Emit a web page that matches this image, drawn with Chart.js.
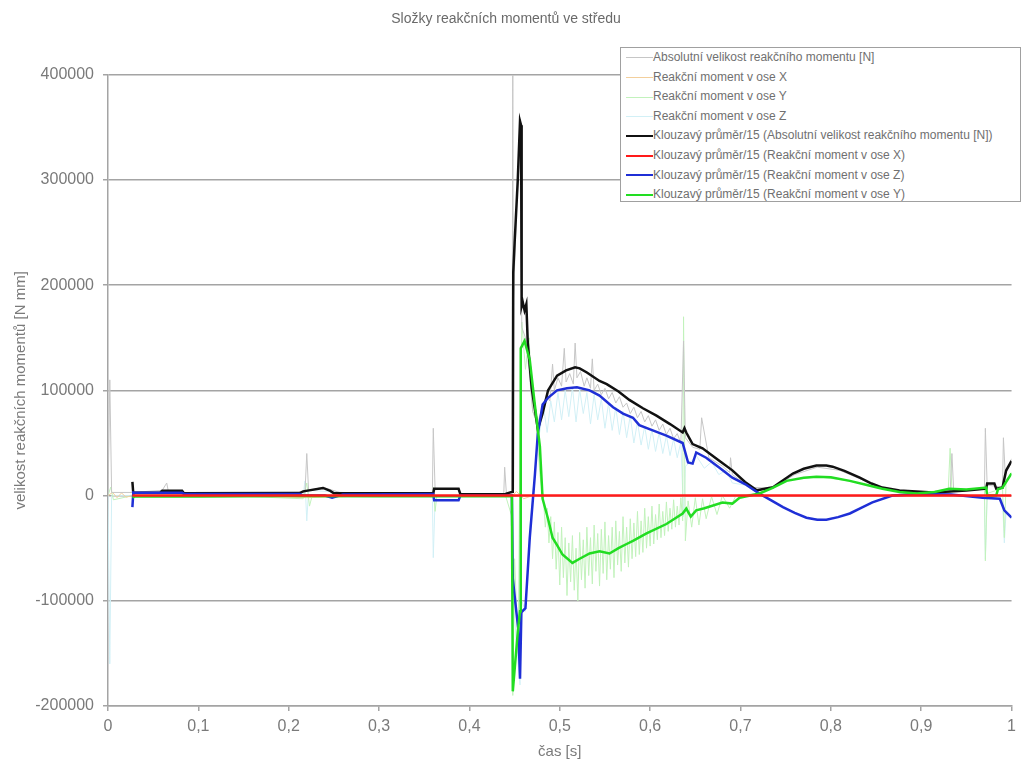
<!DOCTYPE html>
<html lang="cs">
<head>
<meta charset="utf-8">
<title>Složky reakčních momentů ve středu</title>
<script src="https://cdn.jsdelivr.net/npm/chart.js@4/dist/chart.umd.min.js"></script>
<style>
  body { margin: 0; background: #fff; font-family: "Liberation Sans", Arial, sans-serif; }
  #wrap { position: relative; width: 1022px; height: 764px; }
  #legend {
    position: absolute; left: 620px; top: 47px; width: 399px; height: 153px;
    background: #fff; border: 1px solid #a0a0a0; box-sizing: content-box;
  }
  .row { height: 19.6px; line-height: 19.6px; font-size: 12px; color: #707070; white-space: nowrap; }
  .sample { display: inline-block; width: 27px; margin-left: 5px; vertical-align: middle; }
</style>
</head>
<body>
<div id="wrap">
  <canvas id="chart" width="1022" height="764"></canvas>
  <div id="legend"></div>
</div>
<script>
// time axis [s], values [N mm]
const xTicks = [0, 0.1, 0.2, 0.3, 0.4, 0.5, 0.6, 0.7, 0.8, 0.9, 1];
const yTicks = [-200000, -100000, 0, 100000, 200000, 300000, 400000];

// raw signals (faint)
const rawAbsT = [0, 0.002, 0.004, 0.027, 0.060, 0.065, 0.067, 0.100, 0.218, 0.220, 0.222, 0.238, 0.260, 0.359, 0.360, 0.362, 0.388, 0.390, 0.438, 0.439, 0.441, 0.447, 0.448, 0.4485, 0.452, 0.456, 0.458, 0.462, 0.466, 0.470, 0.476,
  0.481, 0.485, 0.489, 0.492, 0.494, 0.498, 0.502, 0.505, 0.507, 0.511, 0.515, 0.517, 0.519, 0.523, 0.527, 0.530, 0.534, 0.536, 0.538, 0.542, 0.546, 0.550, 0.554, 0.558, 0.562, 0.566, 0.570, 0.574, 0.578, 0.582, 0.586, 0.590, 0.594, 0.598, 0.602, 0.606, 0.610, 0.614, 0.618, 0.622, 0.626, 0.630, 0.634,
  0.637, 0.639, 0.647, 0.655, 0.657, 0.665, 0.680, 0.688, 0.689, 0.691, 0.710, 0.736, 0.760, 0.785, 0.810, 0.832, 0.857, 0.876, 0.932, 0.934, 0.936, 0.970, 0.971, 0.973, 0.990, 0.991, 0.993, 1.0];
const rawAbsV = [0, 110000, 3000, 3000, 5000, 12000, 3000, 3000, 3000, 40000, 5000, 8000, 2000, 2000, 64000, 6000, 6000, 1000, 1000, 27000, 1000, 2000, 400000, 180000, 270000, 330000, 160000, 150000, 120000, 80000, 70000,
  85000, 95000, 90000, 125000, 100000, 112000, 104000, 140000, 108000, 116000, 106000, 145000, 112000, 118000, 104000, 112000, 102000, 130000, 100000, 106000, 96000, 102000, 92000, 98000, 88000, 94000, 84000, 88000, 78000, 84000, 74000, 80000, 70000, 76000, 66000, 72000, 62000, 68000, 58000, 64000, 54000, 59000, 50000,
  147000, 55000, 46000, 44000, 74000, 36000, 28000, 22000, 36000, 20000, 8000, 7000, 20000, 27000, 24000, 16000, 7000, 4000, 3000, 40000, 4000, 6000, 64000, 10000, 8000, 55000, 20000, 35000];

const rawXT = [0, 0.005, 0.010, 0.015, 0.020, 0.027, 0.100, 0.220, 0.300, 0.448, 0.452, 0.460, 0.470, 1.0];
const rawXV = [0, 3000, -2000, 2500, -1500, 0, 1000, -2000, 0, 0, 4000, -3000, 0, 0];

const rawYT = [0, 0.003, 0.006, 0.027, 0.100, 0.216, 0.220, 0.223, 0.226, 0.300, 0.359, 0.360, 0.362, 0.364, 0.440, 0.447, 0.448, 0.450, 0.454, 0.456, 0.458, 0.462, 0.466, 0.470, 0.474, 0.478,
  0.482, 0.484, 0.486, 0.488, 0.490, 0.492, 0.494, 0.496, 0.498, 0.500, 0.502, 0.504, 0.506, 0.508, 0.510, 0.512, 0.514, 0.516, 0.518, 0.520, 0.522, 0.524, 0.526, 0.528, 0.530, 0.532, 0.534, 0.536, 0.538, 0.540,
  0.542, 0.544, 0.546, 0.548, 0.550, 0.552, 0.554, 0.556, 0.558, 0.560, 0.562, 0.564, 0.566, 0.568, 0.570, 0.572, 0.574, 0.576, 0.578, 0.580, 0.582, 0.584, 0.586, 0.588, 0.590, 0.592, 0.594, 0.596, 0.598, 0.600,
  0.602, 0.604, 0.606, 0.608, 0.610, 0.612, 0.614, 0.616, 0.618, 0.620, 0.622, 0.624, 0.626, 0.628, 0.630, 0.632, 0.634, 0.636, 0.637, 0.639,
  0.642, 0.646, 0.650, 0.654, 0.658, 0.662, 0.668, 0.674, 0.680, 0.688, 0.695, 0.720, 0.750, 0.785, 0.820, 0.857, 0.895, 0.930, 0.932, 0.934, 0.970, 0.971, 0.973, 0.990, 0.992, 0.994, 1.0];
const rawYV = [0, 8000, -4000, 0, 1000, -3000, 12000, -10000, 0, 0, 0, 8000, -15000, 0, 0, -20000, -190000, -60000, -150000, 60000, 165000, 120000, 150000, 80000, 70000, 20000,
  -5000, -30000, -12000, -45000, -20000, -60000, -25000, -70000, -35000, -85000, -30000, -78000, -40000, -95000, -45000, -82000, -38000, -90000, -50000, -100000, -35000, -80000, -42000, -88000, -30000, -76000, -40000, -84000, -28000, -72000,
  -36000, -86000, -32000, -74000, -25000, -80000, -38000, -70000, -30000, -78000, -24000, -66000, -34000, -72000, -20000, -64000, -30000, -68000, -22000, -60000, -26000, -58000, -15000, -56000, -24000, -54000, -12000, -50000, -20000, -48000,
  -10000, -46000, -18000, -42000, -8000, -40000, -15000, -38000, -6000, -34000, -12000, -32000, -4000, -30000, -10000, -28000, -2000, -24000, 170000, -43000,
  -5000, -30000, -2000, -28000, -3000, -22000, -1000, -18000, 0, -12000, 0, 2000, 14000, 18000, 14000, 6600, 2000, 6000, 45000, 5000, 7000, -62000, 2000, 7000, -40000, 15000, 22000];

const rawZT = [0, 0.002, 0.004, 0.027, 0.100, 0.216, 0.218, 0.220, 0.222, 0.300, 0.359, 0.360, 0.362, 0.388, 0.390, 0.447, 0.448, 0.452, 0.456, 0.458, 0.462, 0.467, 0.472, 0.476,
  0.482, 0.486, 0.490, 0.494, 0.498, 0.502, 0.506, 0.510, 0.514, 0.518, 0.522, 0.526, 0.530, 0.534, 0.538, 0.542, 0.546, 0.550, 0.554, 0.558, 0.562, 0.566, 0.570, 0.574, 0.578, 0.582, 0.586, 0.590, 0.594, 0.598,
  0.602, 0.606, 0.610, 0.614, 0.618, 0.622, 0.626, 0.630, 0.634, 0.637, 0.639,
  0.645, 0.651, 0.660, 0.668, 0.676, 0.684, 0.691, 0.705, 0.721, 0.747, 0.773, 0.795, 0.821, 0.846, 0.868, 0.933, 0.970, 0.971, 0.973, 0.990, 0.992, 0.994, 1.0];
const rawZV = [0, -160000, 0, 0, 2000, 0, 14000, -24000, 5000, 1000, 0, -59000, -4000, -4000, 0, 0, -90000, -140000, -180000, -100000, -110000, -30000, 20000, 50000,
  85000, 60000, 90000, 70000, 98000, 72000, 100000, 75000, 103000, 70000, 101000, 78000, 98000, 68000, 96000, 72000, 92000, 64000, 88000, 62000, 84000, 58000, 80000, 55000, 76000, 50000, 70000, 48000, 66000, 44000,
  63000, 42000, 60000, 40000, 57000, 38000, 54000, 36000, 51000, -20000, 28000,
  32000, 38000, 26000, 32000, 20000, 24000, 12000, 10000, 1000, -11000, -21000, -23000, -17000, -6500, 0, 1000, -2000, -60000, -2000, -4000, -45000, -15000, -22000];

// moving averages (period 15)
const avgAbsT = [0.027, 0.028, 0.030, 0.058, 0.060, 0.082, 0.084, 0.212, 0.216, 0.238, 0.246, 0.250, 0.360, 0.361, 0.388, 0.390, 0.440, 0.446, 0.448, 0.4485, 0.450, 0.4535, 0.456, 0.4572, 0.4578, 0.459, 0.461, 0.463, 0.4646, 0.469, 0.4757, 0.481, 0.487, 0.497, 0.507, 0.517, 0.522, 0.530, 0.544, 0.552, 0.565, 0.577, 0.592, 0.607, 0.622, 0.636, 0.638, 0.640, 0.647, 0.658, 0.675, 0.691, 0.705, 0.718, 0.736, 0.748, 0.758, 0.770, 0.784, 0.795, 0.802, 0.815, 0.832, 0.845, 0.857, 0.876, 0.913, 0.950, 0.972, 0.973, 0.981, 0.983, 0.990, 0.994, 1.0];
const avgAbsV = [13000, 2000, 2600, 3000, 4700, 4500, 2200, 2400, 4000, 7300, 4500, 2200, 2200, 6500, 6500, 1300, 1500, 3300, 3500, 212000, 240000, 300000, 356000, 352000, 180000, 184000, 176000, 182000, 145000, 102000, 63000, 78000, 100000, 114000, 119000, 122000, 121000, 117000, 109000, 106000, 99000, 91000, 83000, 76000, 68000, 60000, 64000, 60000, 49000, 45000, 34000, 24000, 13000, 5000, 8000, 15000, 21000, 25500, 28500, 28500, 27500, 23500, 17000, 11500, 7600, 4800, 3000, 4800, 6600, 11400, 11400, 6600, 7600, 23800, 33000];

const avgXT = [0.027, 1.0];
const avgXV = [0, 0];

const avgZT = [0.027, 0.028, 0.030, 0.082, 0.084, 0.212, 0.216, 0.240, 0.248, 0.260, 0.360, 0.361, 0.388, 0.390, 0.447, 0.448, 0.452, 0.454, 0.456, 0.4575, 0.462, 0.4668, 0.4724, 0.4757, 0.481, 0.487, 0.497, 0.508, 0.519, 0.533, 0.544, 0.559, 0.570, 0.581, 0.588, 0.600, 0.618, 0.636, 0.642, 0.647, 0.651, 0.662, 0.676, 0.691, 0.705, 0.721, 0.735, 0.747, 0.760, 0.773, 0.785, 0.795, 0.808, 0.821, 0.833, 0.846, 0.868, 0.900, 0.933, 0.968, 0.987, 0.992, 1.0];
const avgZV = [-11000, 3000, 2600, 2600, 1600, 1600, 0, 0, -1900, 1000, 1500, -4500, -4500, 0, 0, -79000, -111000, -126000, -174000, -111000, -107000, -40000, 19000, 59000, 86500, 93000, 100000, 102000, 103000, 100000, 95000, 84000, 78000, 74000, 67000, 63000, 57000, 50000, 31400, 30400, 41000, 36000, 27000, 17000, 11000, 1900, -5000, -11000, -16500, -21000, -23000, -23000, -20500, -17000, -12000, -6500, 0, 1500, 1000, -2000, -3000, -14000, -21000];

const avgYT = [0.027, 0.030, 0.100, 0.200, 0.300, 0.447, 0.448, 0.4535, 0.456, 0.4568, 0.461, 0.4668, 0.4724, 0.478, 0.481, 0.487, 0.492, 0.497, 0.503, 0.514, 0.522, 0.533, 0.544, 0.555, 0.565, 0.574, 0.581, 0.596, 0.618, 0.636, 0.640, 0.645, 0.651, 0.660, 0.680, 0.691, 0.699, 0.721, 0.735, 0.751, 0.770, 0.784, 0.800, 0.821, 0.840, 0.857, 0.876, 0.895, 0.915, 0.931, 0.950, 0.972, 0.973, 0.983, 0.985, 0.990, 1.0];
const avgYV = [-2000, -500, -800, -300, -500, -500, -186000, -130000, -110000, 140000, 147000, 129000, 86500, 46500, -3000, -22000, -40000, -47000, -56000, -64000, -60000, -55000, -53000, -55000, -50000, -46000, -43000, -36000, -27000, -17000, -12400, -20000, -14000, -12000, -6500, -7600, -2000, 2000, 7000, 14000, 17000, 18000, 17500, 14000, 10000, 6600, 3500, 2000, 3500, 6600, 5700, 7600, 0, 0, 6000, 7600, 21000];

const labels = [
  'Absolutní velikost reakčního momentu [N]',
  'Reakční moment v ose X',
  'Reakční moment v ose Y',
  'Reakční moment v ose Z',
  'Klouzavý průměr/15 (Absolutní velikost reakčního momentu [N])',
  'Klouzavý průměr/15 (Reakční moment v ose X)',
  'Klouzavý průměr/15 (Reakční moment v ose Z)',
  'Klouzavý průměr/15 (Reakční moment v ose Y)'
];

function points(ts, vs) {
  return ts.map((t, i) => ({ x: t, y: vs[i] }));
}

function series(label, ts, vs, color, width, order) {
  return {
    label: label,
    data: points(ts, vs),
    borderColor: color,
    borderWidth: width,
    pointRadius: 0,
    tension: 0,
    fill: false,
    order: order
  };
}

const gridColor = '#a4a4a4';
const textColor = '#7a7a7a';
const fontFamily = '"Liberation Sans", Arial, sans-serif';

const chart = new Chart(document.getElementById('chart').getContext('2d'), {
  type: 'line',
  data: {
    datasets: [
      series(labels[0], rawAbsT, rawAbsV, '#c6c6c6', 1, 20),
      series(labels[1], rawXT, rawXV, '#f3cf9c', 1, 21),
      series(labels[2], rawYT, rawYV, '#c2f2bc', 1, 22),
      series(labels[3], rawZT, rawZV, '#d2f0f6', 1, 23),
      series(labels[4], avgAbsT, avgAbsV, '#111111', 2.5, 4),
      series(labels[5], avgXT, avgXV, '#ff1a1a', 2.5, 1),
      series(labels[6], avgZT, avgZV, '#1f2fd6', 2.5, 3),
      series(labels[7], avgYT, avgYV, '#22dd22', 2.5, 2)
    ]
  },
  options: {
    responsive: false,
    animation: false,
    layout: { padding: { left: 0, right: 10, top: 0, bottom: 0 } },
    plugins: {
      legend: { display: false },
      tooltip: { enabled: false },
      title: {
        display: true,
        text: 'Složky reakčních momentů ve středu',
        color: '#6a6a6a',
        font: { family: fontFamily, size: 14, weight: 'normal' },
        padding: { top: 11, bottom: 47 }
      }
    },
    scales: {
      x: {
        type: 'linear',
        min: 0,
        max: 1,
        afterBuildTicks: s => { s.ticks = xTicks.map(v => ({ value: v })); },
        afterFit: s => { s.height = 58; },
        ticks: {
          color: textColor,
          font: { family: fontFamily, size: 16 },
          padding: 6,
          maxRotation: 0,
          callback: v => String(Number(v.toFixed(1))).replace('.', ',')
        },
        grid: { drawOnChartArea: false, drawTicks: true, tickLength: 5, color: gridColor, lineWidth: 1.5 },
        border: { display: true, color: gridColor, width: 1.5 },
        title: {
          display: true,
          text: 'čas [s]',
          color: textColor,
          font: { family: fontFamily, size: 15 },
          padding: { top: 0, bottom: 3 }
        }
      },
      y: {
        min: -200000,
        max: 400000,
        afterBuildTicks: s => { s.ticks = yTicks.map(v => ({ value: v })); },
        afterFit: s => { s.width = 108; },
        ticks: {
          color: textColor,
          font: { family: fontFamily, size: 16 },
          padding: 9,
          callback: v => String(v)
        },
        grid: { color: gridColor, lineWidth: 1.5, drawTicks: true, tickLength: 5 },
        border: { display: true, color: gridColor, width: 1.5 },
        title: {
          display: true,
          text: 'velikost reakčních momentů [N mm]',
          color: textColor,
          font: { family: fontFamily, size: 15 },
          padding: { top: 12, bottom: 0 }
        }
      }
    }
  }
});

// legend box drawn over the plot, in the original order
function buildLegend() {
  const box = document.getElementById('legend');
  chart.data.datasets.forEach(ds => {
    const row = document.createElement('div');
    row.className = 'row';
    const line = document.createElement('span');
    line.className = 'sample';
    line.style.borderTop = ds.borderWidth + 'px solid ' + ds.borderColor;
    row.appendChild(line);
    row.appendChild(document.createTextNode(ds.label));
    box.appendChild(row);
  });
}
buildLegend();
</script>
</body>
</html>
